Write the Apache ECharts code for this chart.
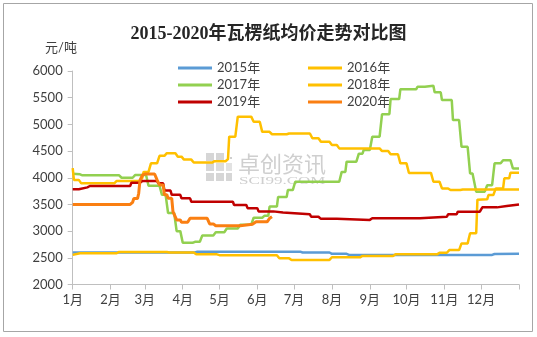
<!DOCTYPE html>
<html>
<head>
<meta charset="utf-8">
<script src="https://cdn.jsdelivr.net/npm/echarts@6/dist/echarts.min.js"></script>
<style>
  html, body { margin: 0; padding: 0; background: #ffffff; }
  #chart { width: 537px; height: 337px; }
</style>
</head>
<body>
<div id="chart"></div>
<script>
// Month labels and the day of year on which each month starts
const monthLabels = ['1月', '2月', '3月', '4月', '5月', '6月', '7月', '8月', '9月', '10月', '11月', '12月'];
const monthStarts = [0, 31, 59, 90, 120, 151, 181, 212, 243, 273, 304, 334];
const yearDays = 365;

// Price axis (元/吨)
const priceMin = 2000;
const priceMax = 6000;
const priceStep = 500;

const seriesNames = ['2015年', '2016年', '2017年', '2018年', '2019年', '2020年'];

// Average corrugated paper price, [day of year, 元/吨]
const p2015 = [[0,2600],[100,2600],[102,2615],[186,2615],[188,2600],[210,2600],[212,2575],[224,2575],[226,2555],[343,2555],[345,2572],[365,2575]];

const p2016 = [[0,2555],[6,2585],[36,2585],[38,2610],[77,2610],[79,2600],[99,2600],[101,2565],[118,2565],[120,2550],[167,2550],[169,2490],[177,2490],[179,2460],[210,2460],[212,2510],[235,2510],[237,2535],[262,2535],[264,2565],[298,2565],[300,2595],[306,2595],[308,2645],[316,2645],[318,2770],[323,2770],[325,2960],[330,2960],[331,3590],[339,3595],[340,3675],[344,3675],[346,3800],[352,3800],[353,3990],[357,3990],[358,4095],[365,4095]];

const p2017 = [[0,4075],[6,4065],[8,4045],[38,4045],[40,4000],[49,4000],[51,4050],[60,4050],[62,3850],[71,3850],[73,3680],[76,3680],[78,3340],[83,3340],[85,3000],[88,3000],[90,2780],[98,2780],[100,2800],[104,2800],[106,2920],[115,2920],[117,2980],[124,2980],[126,3050],[135,3050],[137,3120],[146,3120],[148,3250],[155,3250],[157,3290],[160,3290],[161,3460],[167,3460],[168,3640],[175,3640],[176,3770],[180,3770],[182,3925],[218,3925],[220,4110],[223,4110],[224,4300],[232,4300],[234,4450],[237,4450],[238,4520],[243,4520],[245,4770],[251,4770],[253,5190],[259,5190],[260,5475],[267,5475],[268,5660],[281,5660],[282,5705],[288,5705],[289,5725],[295,5725],[296,5600],[301,5600],[302,5455],[310,5455],[311,5080],[316,5080],[318,4580],[323,4580],[325,4080],[327,4080],[330,3740],[337,3740],[339,3860],[343,3860],[345,4270],[350,4270],[352,4330],[358,4330],[360,4175],[365,4175]];

const p2018 = [[0,4180],[1,3960],[5,3960],[7,3895],[34,3895],[36,3940],[55,3940],[57,4000],[58,4110],[62,4110],[64,4270],[69,4270],[71,4410],[75,4410],[77,4460],[84,4460],[86,4395],[89,4395],[91,4340],[97,4340],[99,4285],[114,4285],[116,4310],[125,4310],[127,4350],[128,4770],[133,4770],[135,5145],[146,5145],[148,5050],[153,5050],[155,4860],[161,4860],[163,4815],[175,4815],[177,4830],[194,4830],[196,4740],[201,4740],[203,4675],[210,4675],[212,4615],[216,4615],[218,4550],[251,4550],[253,4500],[258,4500],[260,4440],[266,4440],[268,4270],[273,4270],[275,4090],[293,4090],[295,3925],[300,3925],[302,3800],[307,3800],[309,3770],[317,3770],[319,3780],[365,3780]];

const p2019 = [[0,3785],[5,3785],[6,3820],[12,3820],[14,3845],[47,3845],[48,3905],[55,3905],[57,3940],[69,3940],[70,3895],[74,3895],[75,3760],[80,3760],[81,3680],[88,3680],[89,3615],[96,3615],[97,3550],[131,3550],[132,3490],[142,3490],[143,3430],[151,3430],[152,3370],[164,3370],[165,3350],[172,3350],[173,3315],[194,3315],[195,3270],[201,3270],[203,3230],[216,3230],[217,3210],[243,3210],[245,3240],[284,3240],[285,3270],[306,3270],[307,3315],[314,3315],[315,3365],[333,3365],[335,3445],[347,3445],[348,3470],[355,3470],[356,3500],[365,3500]];

const p2020 = [[0,3500],[47,3500],[49,3540],[50,3610],[53,3610],[54,3710],[55,3950],[57,4050],[59,4070],[67,4070],[69,3960],[71,3865],[74,3865],[75,3680],[77,3680],[78,3615],[81,3615],[82,3365],[85,3210],[88,3210],[89,3165],[94,3165],[96,3240],[110,3240],[112,3135],[115,3135],[117,3100],[137,3100],[138,3130],[147,3130],[150,3175],[159,3175],[161,3240],[163,3270]];

const seriesData = [p2015, p2016, p2017, p2018, p2019, p2020];
const seriesColors = ['#5B9BD5', '#FFC000', '#92D050', '#FFC000', '#C00000', '#FA7F12'];

const labelFont = 'Lato, "Noto Sans CJK SC", sans-serif';

const chart = echarts.init(document.getElementById('chart'), null, { renderer: 'canvas' });

function legendColumn(left, names) {
  return {
    orient: 'vertical',
    left: left,
    top: 56,
    icon: 'rect',
    itemWidth: 34,
    itemHeight: 3,
    itemGap: 3,
    data: names,
    textStyle: { fontFamily: labelFont, fontSize: 13, color: '#404040', lineHeight: 14 }
  };
}

const option = {
  backgroundColor: '#ffffff',
  animation: false,
  title: {
    text: '2015-2020年瓦楞纸均价走势对比图',
    left: 'center',
    top: 20,
    textStyle: {
      fontFamily: '"Liberation Serif", "Noto Sans CJK SC", serif',
      fontSize: 18,
      fontWeight: 'bold',
      color: '#262626'
    }
  },
  legend: [
    legendColumn(173, [seriesNames[0], seriesNames[2], seriesNames[4]]),
    legendColumn(303, [seriesNames[1], seriesNames[3], seriesNames[5]])
  ],
  grid: { left: 72.7, right: 18, top: 71, bottom: 52.5, containLabel: false },
  xAxis: {
    type: 'value',
    min: 0,
    max: yearDays,
    splitLine: { show: false },
    axisLine: { show: true, lineStyle: { color: '#bfbfbf', width: 1 } },
    axisTick: {
      show: true,
      inside: false,
      length: 5,
      customValues: monthStarts.concat([yearDays]),
      lineStyle: { color: '#bfbfbf' }
    },
    axisLabel: {
      customValues: monthStarts,
      formatter: (v) => monthLabels[monthStarts.indexOf(v)] || '',
      margin: 9,
      fontFamily: labelFont,
      fontSize: 13,
      color: '#404040'
    }
  },
  yAxis: {
    type: 'value',
    min: priceMin,
    max: priceMax,
    interval: priceStep,
    splitLine: { show: false },
    axisLine: { show: true, lineStyle: { color: '#bfbfbf', width: 1 } },
    axisTick: { show: true, inside: false, length: 5, lineStyle: { color: '#bfbfbf' } },
    axisLabel: {
      margin: 10,
      formatter: (v) => String(v),
      fontFamily: labelFont,
      fontSize: 13,
      color: '#404040'
    }
  },
  graphic: [
    // outer frame
    {
      type: 'rect',
      shape: { x: 3.5, y: 3.5, width: 529, height: 328 },
      style: { fill: 'none', stroke: '#a6a6a6', lineWidth: 1 },
      silent: true
    },
    // unit label
    {
      type: 'text',
      x: 61,
      y: 48,
      style: {
        text: '元/吨',
        fontFamily: labelFont,
        fontSize: 13,
        fill: '#404040',
        align: 'center',
        verticalAlign: 'middle'
      },
      silent: true
    },
    // watermark logo blocks
    {
      type: 'group',
      x: 206,
      y: 153,
      silent: true,
      children: [
        { type: 'rect', shape: { x: 0, y: 0, width: 8, height: 8 }, style: { fill: '#d6d6d6' } },
        { type: 'rect', shape: { x: 10, y: 0, width: 8, height: 8 }, style: { fill: '#d6d6d6' } },
        { type: 'rect', shape: { x: 0, y: 10, width: 8, height: 8 }, style: { fill: '#d6d6d6' } },
        { type: 'rect', shape: { x: 10, y: 10, width: 8, height: 8 }, style: { fill: '#dcdcdc' } },
        { type: 'rect', shape: { x: 20, y: 10, width: 6, height: 8 }, style: { fill: '#e2e2e2' } },
        { type: 'rect', shape: { x: 0, y: 20, width: 8, height: 8 }, style: { fill: '#d6d6d6' } },
        { type: 'rect', shape: { x: 10, y: 20, width: 8, height: 8 }, style: { fill: '#d6d6d6' } },
        { type: 'rect', shape: { x: 20, y: 20, width: 6, height: 8 }, style: { fill: '#d6d6d6' } },
        { type: 'rect', shape: { x: 21, y: 1, width: 2, height: 2 }, style: { fill: '#cfcfcf' } },
        { type: 'rect', shape: { x: 24, y: 4, width: 2, height: 2 }, style: { fill: '#cfcfcf' } }
      ]
    },
    {
      type: 'text',
      x: 238,
      y: 164,
      silent: true,
      style: {
        text: '卓创资讯',
        fontFamily: '"Noto Sans CJK SC", sans-serif',
        fontSize: 22,
        fill: '#cfcfcf',
        align: 'left',
        verticalAlign: 'middle'
      }
    },
    {
      type: 'text',
      x: 239,
      y: 181,
      scaleX: 1.7,
      silent: true,
      style: {
        text: 'SCI99.COM',
        fontFamily: '"Liberation Serif", serif',
        fontSize: 10,
        fill: '#cfcfcf',
        align: 'left',
        verticalAlign: 'middle'
      }
    }
  ],
  series: seriesNames.map((name, i) => ({
    name: name,
    type: 'line',
    data: seriesData[i],
    showSymbol: false,
    symbol: 'none',
    smooth: false,
    color: seriesColors[i],
    lineStyle: { color: seriesColors[i], width: i === 5 ? 3 : 2.5 },
    z: 3 + i
  }))
};

chart.setOption(option);
</script>
</body>
</html>
